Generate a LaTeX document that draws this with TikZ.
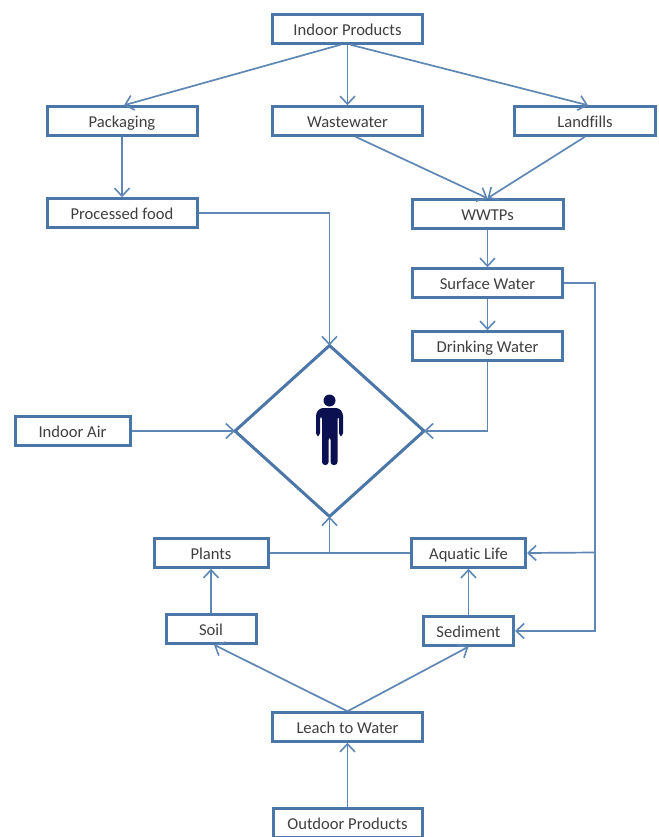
\documentclass[tikz,border=0pt]{standalone}
\usepackage{fontspec}
\setmainfont[Ligatures=NoCommon]{Carlito}
\usetikzlibrary{arrows.meta,shapes.geometric}
\definecolor{boxblue}{HTML}{4A76A8}
\definecolor{linkblue}{HTML}{5F87B5}
\definecolor{labelgrey}{HTML}{3F3F3F}
\definecolor{figurenavy}{HTML}{0B1150}
\tikzset{
  x=1pt,y=-1pt,
  flowbox/.style={draw=boxblue,line width=3pt,fill=white,text=labelgrey,font=\fontsize{16.6}{18}\selectfont,
    minimum width=#1,minimum height=28.5pt,inner sep=0pt,outer sep=1.5pt,anchor=center,text height=14pt,text depth=1.6pt},
  flowbox/.default=150pt,
  centre/.style={draw=boxblue,line width=3pt,fill=white,diamond,aspect=1.1,inner sep=0pt,outer sep=0pt,
    minimum width=189pt,minimum height=171pt},
  link/.style={draw=linkblue,line width=1.7pt,-{Straight Barb[length=8pt,width=15pt,line width=1.6pt]}},
  plainlink/.style={draw=linkblue,line width=1.7pt},
  figurepart/.style={fill=figurenavy,draw=none}
}
\begin{document}
\begin{tikzpicture}
\useasboundingbox (0,0) rectangle (658,837);
\fill[white] (0,0) rectangle (658,837);

\node[flowbox=150pt] (indoor) at (347.5,29) {Indoor Products};
\node[flowbox=150pt] (pack) at (122,121) {Packaging};
\node[flowbox=150pt] (waste) at (347.5,121) {Wastewater};
\node[flowbox=141pt] (land) at (585,121) {Landfills};
\node[flowbox=150pt] (food) at (122,213) {Processed food};
\node[flowbox=151pt] (wwtp) at (487.5,214) {WWTPs};
\node[flowbox=150pt] (surface) at (487.5,283) {Surface Water};
\node[flowbox=150pt] (drink) at (487.5,346) {Drinking Water};
\node[flowbox=115pt] (air) at (72.5,431) {Indoor Air};
\node[centre] (human) at (329.5,431) {};
\node[flowbox=114pt] (plants) at (211,553) {Plants};
\node[flowbox=114pt] (aqua) at (468.5,553) {Aquatic Life};
\node[flowbox=90pt] (soil) at (211,629) {Soil};
\node[flowbox=90pt] (sed) at (468.5,631) {Sediment};
\node[flowbox=150pt] (leach) at (347.5,727) {Leach to Water};
\node[flowbox=149pt] (outdoor) at (347.5,823) {Outdoor Products};

\coordinate (upright) at (595,283);
\coordinate (lowright) at (595,631);
\coordinate (branch) at (595,552.5);
\coordinate (join) at (329.5,553);
\coordinate (foodbend) at (329.5,213);
\coordinate (drinkbend) at (487.5,431);

\draw[link] ([xshift=-7pt]indoor.south) -- ([xshift=2pt]pack.north);
\draw[link] (indoor.south) -- (waste.north);
\draw[link] ([xshift=3pt]indoor.south) -- ([xshift=3pt]land.north);
\draw[link] (pack.south) -- (food.north);
\draw[link] (food.east) -- (foodbend) -- (human.north);
\draw[link] ([xshift=8pt]waste.south) -- (wwtp.north);
\draw[link] (land.south) -- (wwtp.north);
\draw[link] (wwtp.south) -- (surface.north);
\draw[link] (surface.south) -- (drink.north);
\draw[link] (drink.south) -- (drinkbend) -- (human.east);
\draw[link] (air.east) -- (human.west);
\draw[link] (surface.east) -- (upright) -- (lowright) -- (sed.east);
\draw[link] (branch) -- (aqua.east);
\draw[plainlink] (plants.east) -- (aqua.west);
\draw[link] (join) -- (human.south);
\draw[link] (soil.north) -- (plants.south);
\draw[link] (sed.north) -- (aqua.south);
\draw[link] (leach.north) -- ([xshift=3pt]soil.south);
\draw[link] (leach.north) -- (sed.south);
\draw[link] (outdoor.north) -- (leach.south);

% person
\fill[figurepart] (329.5,400.5) circle (6);
\fill[figurepart,rounded corners=3pt] (316,436) -- (316,413) -- (320,408) -- (339,408) -- (343,413) -- (343,436) -- (339,436) -- (339,416) -- (337.5,416) -- (337.5,465) -- (330.6,465) -- (330.6,437) -- (328.6,437) -- (328.6,465) -- (322,465) -- (322,416) -- (320,416) -- (320,436) -- cycle;
\end{tikzpicture}
\end{document}
